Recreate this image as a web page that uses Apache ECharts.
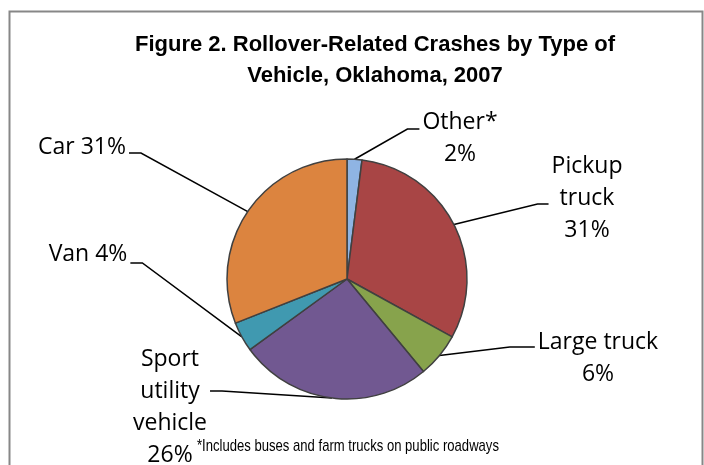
<!DOCTYPE html>
<html>
<head>
<meta charset="utf-8">
<script src="https://cdn.jsdelivr.net/npm/echarts@6/dist/echarts.min.js"></script>
<style>
  html, body { margin: 0; padding: 0; background: #fff; }
  #chart { width: 704px; height: 465px; }
</style>
</head>
<body>
<div id="chart"></div>
<script>
// data
const categories = ['Other*', 'Pickup truck', 'Large truck', 'Sport utility vehicle', 'Van', 'Car'];
const shares = [2, 31, 6, 26, 4, 31];
const labelTexts = ['Other*\n2%', 'Pickup\ntruck\n31%', 'Large truck\n6%', 'Sport\nutility\nvehicle\n26%', 'Van 4%', 'Car 31%'];
const colors = ['#8FB4E3', '#A84545', '#87A34C', '#715891', '#4099B0', '#DC843F'];

// label block centers, and where the leader line meets each label
// [side (-1 left / 1 right of label), y of the short horizontal, its length]
const labelPos = [[460, 138], [587, 198], [598, 358], [170, 407], [88, 254], [82, 147]];
const labelAnchor = [[-1, 129, 12], [-1, 204, 11], [-1, 347, 25], [1, 391, 12], [1, 263, 12], [1, 153, 12]];

const chart = echarts.init(document.getElementById('chart'));

const option = {
  backgroundColor: '#fff',
  animation: false,
  title: {
    text: 'Figure 2. Rollover-Related Crashes by Type of\nVehicle, Oklahoma, 2007',
    left: 370,
    top: 24,
    textAlign: 'center',
    textStyle: {
      fontFamily: '"Liberation Sans Narrow", "Liberation Sans", Arial, sans-serif',
      fontWeight: 'bold',
      fontSize: 22,
      lineHeight: 31,
      color: '#000'
    }
  },
  graphic: {
    elements: [
      {
        type: 'rect',
        shape: { x: 9.5, y: 11.5, width: 693, height: 470 },
        style: { fill: 'none', stroke: '#878787', lineWidth: 2 },
        silent: true
      },
      {
        type: 'text',
        x: 197,
        y: 446,
        scaleX: 0.77,
        style: {
          text: '*Includes buses and farm trucks on public roadways',
          font: '17px "Liberation Sans", Arial, sans-serif',
          fill: '#000',
          verticalAlign: 'middle'
        }
      }
    ]
  },
  series: [
    {
      type: 'pie',
      center: [347, 279],
      radius: 120,
      startAngle: 90,
      clockwise: true,
      data: categories.map((name, i) => ({
        name: name,
        value: shares[i],
        itemStyle: { color: colors[i] },
        label: { formatter: labelTexts[i] }
      })),
      itemStyle: {
        borderColor: '#404040',
        borderWidth: 1.5
      },
      label: {
        show: true,
        position: 'outside',
        fontFamily: '"Open Sans", sans-serif',
        fontSize: 23,
        lineHeight: 32,
        color: '#000',
        align: 'center'
      },
      labelLine: {
        show: true,
        length: 20,
        length2: 10,
        lineStyle: { color: '#000', width: 1.5 }
      },
      labelLayout: function (params) {
        const i = params.dataIndex;
        const p = labelPos[i];
        const a = labelAnchor[i];
        const w = params.labelRect.width;
        const start = params.labelLinePoints[0];
        const endX = p[0] + a[0] * (w / 2 + 3);
        return {
          x: p[0],
          y: p[1],
          align: 'center',
          verticalAlign: 'middle',
          labelLinePoints: [start, [endX + a[0] * a[2], a[1]], [endX, a[1]]]
        };
      }
    }
  ]
};

chart.setOption(option);
</script>
</body>
</html>
